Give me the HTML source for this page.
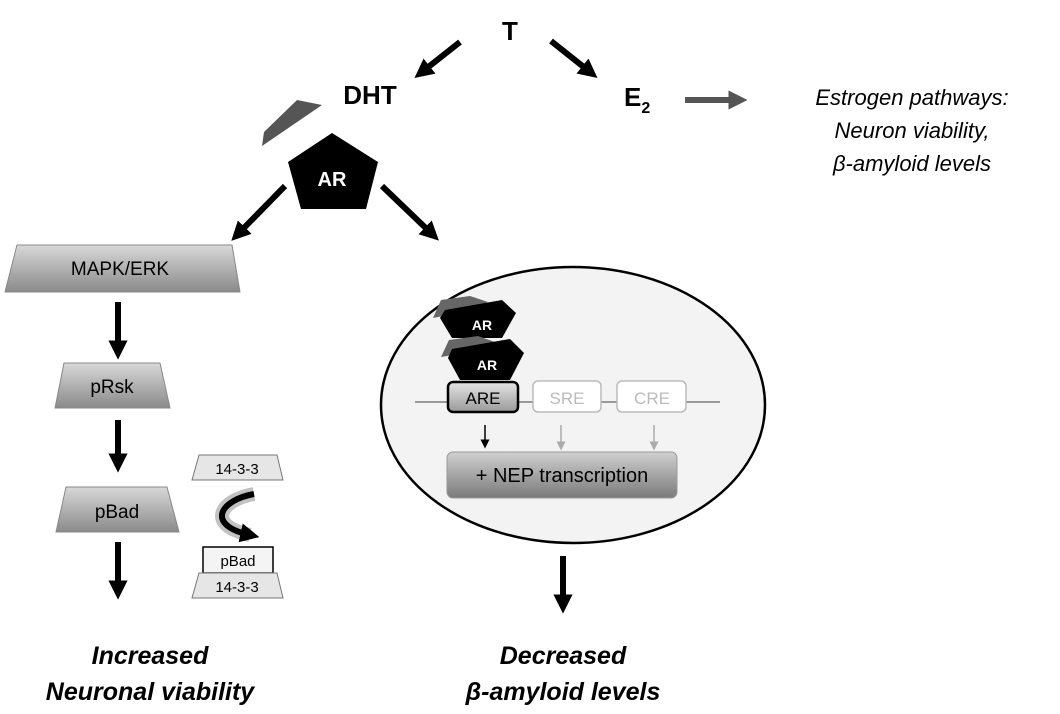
<!DOCTYPE html>
<html><head><meta charset="utf-8"><style>
html,body{margin:0;padding:0;background:#fff;}
svg{display:block;font-family:"Liberation Sans",Arial,sans-serif;}
</style></head><body>
<svg width="1060" height="714" viewBox="0 0 1060 714" xmlns="http://www.w3.org/2000/svg">
<defs>
<marker id="ah" viewBox="0 0 10 10" refX="5" refY="5" markerWidth="3.2" markerHeight="3.2" orient="auto"><path d="M0,0 L10,5 L0,10 z" fill="#000"/></marker>
<marker id="ahg" viewBox="0 0 10 10" refX="5" refY="5" markerWidth="3.2" markerHeight="3.2" orient="auto"><path d="M0,0 L10,5 L0,10 z" fill="#555"/></marker>
<marker id="as" viewBox="0 0 10 10" refX="5" refY="5" markerWidth="6" markerHeight="6" orient="auto"><path d="M0,0 L10,5 L0,10 z" fill="#000"/></marker>
<marker id="asg" viewBox="0 0 10 10" refX="5" refY="5" markerWidth="6" markerHeight="6" orient="auto"><path d="M0,0 L10,5 L0,10 z" fill="#aaa"/></marker>
<linearGradient id="g1" x1="0" y1="0" x2="0" y2="1"><stop offset="0" stop-color="#d8d8d8"/><stop offset="1" stop-color="#8a8a8a"/></linearGradient>
<linearGradient id="g2" x1="0" y1="0" x2="0" y2="1"><stop offset="0" stop-color="#e4e4e4"/><stop offset="1" stop-color="#9a9a9a"/></linearGradient>
<linearGradient id="g3" x1="0" y1="0" x2="0" y2="1"><stop offset="0" stop-color="#d0d0d0"/><stop offset="1" stop-color="#7a7a7a"/></linearGradient>
</defs>

<!-- top -->
<text x="510" y="40" font-size="26" font-weight="bold" text-anchor="middle">T</text>
<line x1="460" y1="42" x2="422" y2="72" stroke="#000" stroke-width="6" marker-end="url(#ah)"/>
<line x1="551" y1="41" x2="590" y2="72" stroke="#000" stroke-width="6" marker-end="url(#ah)"/>
<text x="370" y="104" font-size="26" font-weight="bold" text-anchor="middle">DHT</text>
<text x="624" y="106" font-size="26" font-weight="bold">E<tspan font-size="16" dy="7">2</tspan></text>
<line x1="685" y1="100" x2="738" y2="100" stroke="#555" stroke-width="6" marker-end="url(#ahg)"/>
<g font-size="22" font-style="italic" text-anchor="middle">
<text x="912" y="105">Estrogen pathways:</text>
<text x="912" y="138">Neuron viability,</text>
<text x="912" y="171">β-amyloid levels</text>
</g>

<polygon points="262,146 264,132 297,100 322,105" fill="#555"/>
<polygon points="332,133 288,162 301,209 366,209 378,162" fill="#000"/>
<text x="332" y="186" font-size="20" font-weight="bold" fill="#fff" text-anchor="middle">AR</text>
<line x1="285" y1="186" x2="238" y2="234" stroke="#000" stroke-width="6" marker-end="url(#ah)"/>
<line x1="382" y1="186" x2="432" y2="234" stroke="#000" stroke-width="6" marker-end="url(#ah)"/>

<!-- left column -->
<polygon points="17,245 232,245 240,292 5,292" fill="url(#g1)" stroke="#888"/>
<text x="120" y="275" font-size="19" text-anchor="middle">MAPK/ERK</text>
<line x1="118" y1="302" x2="118" y2="350" stroke="#000" stroke-width="6" marker-end="url(#ah)"/>
<polygon points="64,363 160,363 170,408 55,408" fill="url(#g1)" stroke="#888"/>
<text x="112" y="393" font-size="19" text-anchor="middle">pRsk</text>
<line x1="118" y1="420" x2="118" y2="463" stroke="#000" stroke-width="6" marker-end="url(#ah)"/>
<polygon points="66,487 167,487 179,532 56,532" fill="url(#g1)" stroke="#888"/>
<text x="117" y="518" font-size="19" text-anchor="middle">pBad</text>
<line x1="118" y1="542" x2="118" y2="590" stroke="#000" stroke-width="6" marker-end="url(#ah)"/>

<polygon points="199,455 277,455 283,480 192,480" fill="#e6e6e6" stroke="#777"/>
<text x="237" y="474" font-size="15" text-anchor="middle">14-3-3</text>
<path d="M254,494 C220,500 205,525 250,535" fill="none" stroke="#999" stroke-width="14" opacity="0.6"/>
<path d="M254,494 C220,500 205,525 250,535" fill="none" stroke="#000" stroke-width="6" marker-end="url(#ah)"/>
<rect x="203" y="547" width="70" height="26" fill="#f4f4f4" stroke="#000" stroke-width="1.5"/>
<text x="238" y="566" font-size="15" text-anchor="middle">pBad</text>
<polygon points="199,573 277,573 283,598 192,598" fill="#e6e6e6" stroke="#777"/>
<text x="237" y="592" font-size="15" text-anchor="middle">14-3-3</text>

<!-- nucleus -->
<ellipse cx="573" cy="405" rx="192" ry="138" fill="#f3f3f3" stroke="#000" stroke-width="2.5"/>
<polygon points="433,318 441,300 470,296 488,302 462,312" fill="#666"/>
<polygon points="445,310 502,300 516,313 502,338 452,338 440,318" fill="#000"/>
<text x="482" y="330" font-size="14" font-weight="bold" fill="#fff" text-anchor="middle">AR</text>
<polygon points="441,357 449,340 478,336 495,342 470,352" fill="#666"/>
<polygon points="452,349 510,339 524,353 510,380 460,380 448,358" fill="#000"/>
<text x="487" y="370" font-size="14" font-weight="bold" fill="#fff" text-anchor="middle">AR</text>
<line x1="415" y1="402" x2="720" y2="402" stroke="#999" stroke-width="2"/>
<rect x="448" y="382" width="70" height="30" rx="5" fill="url(#g2)" stroke="#000" stroke-width="2.5"/>
<text x="483" y="404" font-size="17" text-anchor="middle">ARE</text>
<rect x="533" y="381" width="68" height="31" rx="5" fill="#fff" stroke="#bbb" stroke-width="1.5"/>
<text x="567" y="404" font-size="17" fill="#bbb" text-anchor="middle">SRE</text>
<rect x="617" y="381" width="69" height="31" rx="5" fill="#fff" stroke="#bbb" stroke-width="1.5"/>
<text x="652" y="404" font-size="17" fill="#bbb" text-anchor="middle">CRE</text>
<line x1="485" y1="425" x2="485" y2="444" stroke="#000" stroke-width="1.5" marker-end="url(#as)"/>
<line x1="561" y1="425" x2="561" y2="446" stroke="#aaa" stroke-width="1.5" marker-end="url(#asg)"/>
<line x1="654" y1="425" x2="654" y2="446" stroke="#aaa" stroke-width="1.5" marker-end="url(#asg)"/>
<rect x="447" y="452" width="230" height="46" rx="6" fill="url(#g3)" stroke="#999"/>
<text x="562" y="482" font-size="20" text-anchor="middle">+ NEP transcription</text>

<line x1="563" y1="556" x2="563" y2="604" stroke="#000" stroke-width="6" marker-end="url(#ah)"/>

<g font-size="25" font-weight="bold" font-style="italic" text-anchor="middle">
<text x="150" y="664">Increased</text>
<text x="150" y="700">Neuronal viability</text>
<text x="563" y="664">Decreased</text>
<text x="563" y="700">β-amyloid levels</text>
</g>
</svg>
</body></html>
